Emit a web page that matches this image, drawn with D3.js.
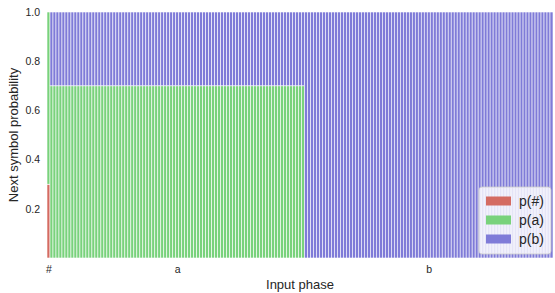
<!DOCTYPE html>
<html>
<head>
<meta charset="utf-8">
<script src="https://cdn.jsdelivr.net/npm/d3@7"></script>
<style>
  body { margin: 0; background: #fff; }
  text { font-family: "Liberation Sans", Arial, sans-serif; }
</style>
</head>
<body>
<div id="chart"></div>
<script>
// phases of the input sequence and how many steps each one lasts
var phases = ["#", "a", "b"];
var phaseLengths = [1, 85, 83];
// next-symbol probabilities per phase
var pHash = [0.3, 0.0, 0.0];
var pA = [0.7, 0.7, 0.0];
var pB = [0.0, 0.3, 1.0];
var series = ["p(#)", "p(a)", "p(b)"];
var yTicks = [0.2, 0.4, 0.6, 0.8, 1.0];

var margin = {top: 12, right: 2, bottom: 35, left: 47},
    width = 555 - margin.left - margin.right,
    height = 293 - margin.top - margin.bottom;

var color = d3.scaleOrdinal()
    .domain(series)
    .range(["#d46b62", "#79d27c", "#7f7bd8"]);

// one row per input step
var rows = [];
phases.forEach(function(ph, pi) {
    for (var k = 0; k < phaseLengths[pi]; k++) {
        rows.push({step: rows.length, phase: ph, "p(#)": pHash[pi], "p(a)": pA[pi], "p(b)": pB[pi]});
    }
});

var stacked = d3.stack().keys(series)(rows);

var x = d3.scaleBand()
    .domain(rows.map(function(d) { return d.step; }))
    .range([0, width])
    .padding(0);

var y = d3.scaleLinear()
    .domain([0, 1])
    .range([height, 0]);

var svg = d3.select("#chart").append("svg")
    .attr("width", 555)
    .attr("height", 293)
    .append("g")
    .attr("transform", "translate(" + margin.left + "," + margin.top + ")");

svg.selectAll(".layer")
    .data(stacked)
    .enter().append("g")
    .attr("class", "layer")
    .style("fill", function(d) { return color(d.key); })
    .selectAll("rect")
    .data(function(d) { return d.filter(function(s) { return s[1] - s[0] > 0; }); })
    .enter().append("rect")
    .attr("x", function(d) { return x(d.data.step); })
    .attr("width", x.bandwidth())
    .attr("y", function(d) { return y(d[1]); })
    .attr("height", function(d) { return y(d[0]) - y(d[1]); })
    .style("stroke", "#fff")
    .style("stroke-width", 0.6);

// x tick labels sit in the middle of each phase
var start = 0;
var phaseCenters = phaseLengths.map(function(n) {
    var c = (x(start) + x(start + n - 1) + x.bandwidth()) / 2;
    start += n;
    return c;
});

var xAxis = d3.axisBottom(d3.scaleOrdinal().domain(phases).range(phaseCenters))
    .tickSize(0).tickPadding(8);
var yAxis = d3.axisLeft(y).tickValues(yTicks).tickFormat(d3.format(".1f"))
    .tickSize(0).tickPadding(7);

svg.append("g")
    .attr("class", "axis")
    .attr("transform", "translate(0," + height + ")")
    .call(xAxis);

svg.append("g")
    .attr("class", "axis")
    .call(yAxis);

d3.selectAll(".axis path").remove();
d3.selectAll(".axis text")
    .style("font-size", "10.5px")
    .style("fill", "#262626");

svg.append("text")
    .attr("x", width / 2)
    .attr("y", height + 31)
    .style("text-anchor", "middle")
    .style("font-size", "13px")
    .style("fill", "#262626")
    .text("Input phase");

svg.append("text")
    .attr("transform", "translate(" + (-29) + "," + (height / 2) + ") rotate(-90)")
    .style("text-anchor", "middle")
    .style("font-size", "13px")
    .style("fill", "#262626")
    .text("Next symbol probability");

// legend box in the lower right corner
var legend = svg.append("g").attr("transform", "translate(" + (width - 74) + "," + (height - 71) + ")");

legend.append("rect")
    .attr("width", 72)
    .attr("height", 67)
    .attr("rx", 3)
    .style("fill", "#fff")
    .style("fill-opacity", 0.8)
    .style("stroke", "#ccc")
    .style("stroke-width", 0.8);

var items = legend.selectAll(".item")
    .data(series)
    .enter().append("g")
    .attr("class", "item")
    .attr("transform", function(d, i) { return "translate(7," + (14 + i * 19) + ")"; });

items.append("rect")
    .attr("width", 25)
    .attr("height", 9)
    .attr("y", -4.5)
    .style("fill", color);

items.append("text")
    .attr("x", 33)
    .attr("dy", "0.35em")
    .style("font-size", "14px")
    .style("fill", "#262626")
    .text(function(d) { return d; });
</script>
</body>
</html>
